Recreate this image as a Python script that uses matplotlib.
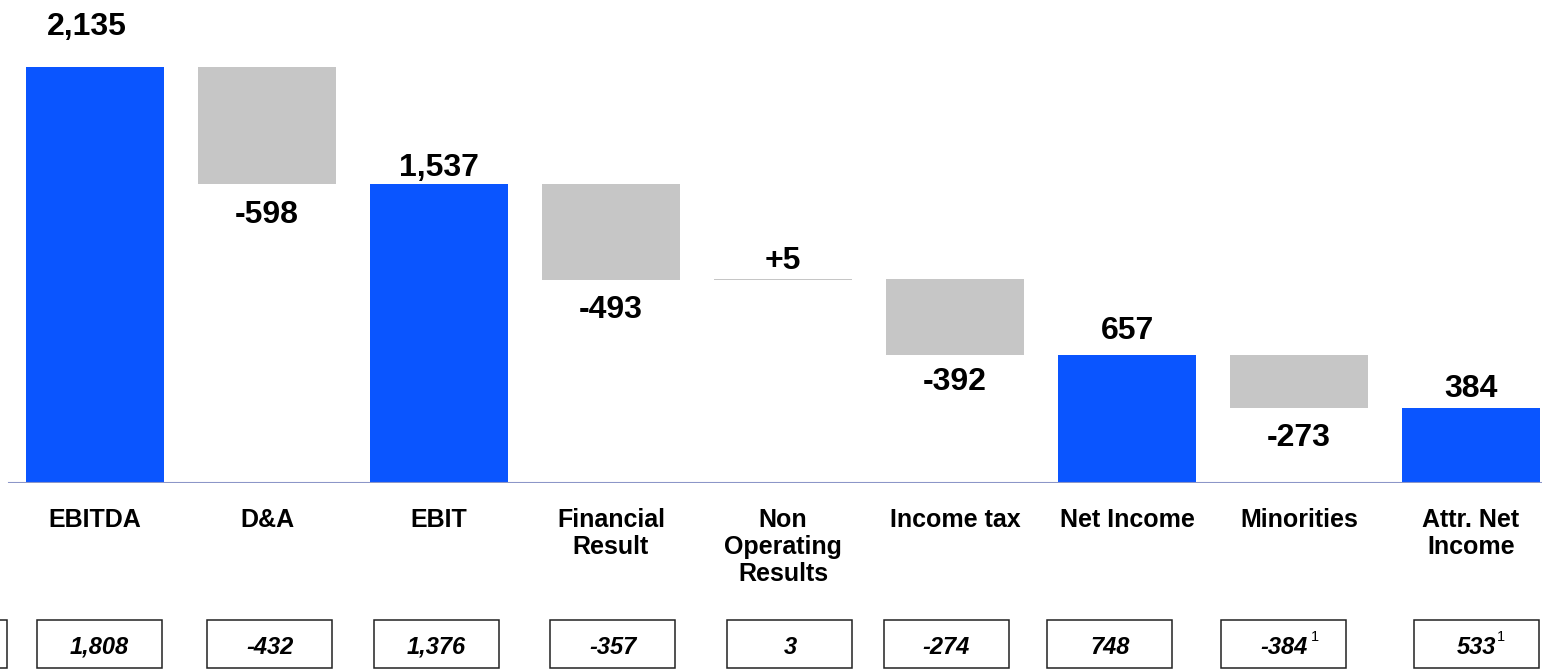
import matplotlib
matplotlib.use("Agg")
import matplotlib.pyplot as plt
from matplotlib.patches import Rectangle

plt.rcParams['font.family'] = ['Liberation Sans', 'DejaVu Sans']

# ---- data ----
categories = ["EBITDA", "D&A", "EBIT", "Financial\nResult", "Non\nOperating\nResults",
              "Income tax", "Net Income", "Minorities", "Attr. Net\nIncome"]
values = [2135, -598, 1537, -493, 5, -392, 657, -273, 384]
kinds = ["total", "delta", "total", "delta", "delta", "delta", "total", "delta", "total"]
value_labels = ["2,135", "-598", "1,537", "-493", "+5", "-392", "657", "-273", "384"]
prior_labels = ["1,808", "-432", "1,376", "-357", "3", "-274", "748", "-384", "533"]
prior_notes = ["", "", "", "", "", "", "", "1", "1"]

# ---- layout / style ----
BLUE = "#0A55FF"
GRAY = "#C6C6C6"
AXIS = "#8C96C8"
px_per_unit = 0.1948
W, H = 1542, 669
base_px = 483
label_off = [40, -31, 16, -30, 18, -27, 24, -30, 19]   # px from bar end
label_dx = [-8, 0, 0, 0, 0, 0, 0, 0, 0]
box_shift = [0.026, 0.017, -0.015, 0.01, 0.04, -0.05, -0.10, -0.09, 0.03]
box_w = 0.727

fig = plt.figure(figsize=(W / 100, H / 100), dpi=100)
xlim = ((0 - 95) / 172, (W - 95) / 172)
ax = fig.add_axes([0, (H - base_px) / H, 1, base_px / H])
ax.set_xlim(*xlim)
ax.set_ylim(0, base_px / px_per_unit)
ax.axis("off")

running = 0
for i, (v, k) in enumerate(zip(values, kinds)):
    if k == "total":
        bottom, height = 0, v
        running = v
        color = BLUE
    else:
        if v < 0:
            bottom, height = running + v, -v
        else:
            bottom, height = running, v
        running += v
        color = GRAY
    ax.bar(i, height, bottom=bottom, width=0.808, color=color, linewidth=0)
    off = label_off[i]
    y = bottom + height if off > 0 else bottom
    ax.annotate(value_labels[i], (i, y), xytext=(label_dx[i] * 0.72, off * 0.72),
                textcoords="offset points", ha="center", va="center",
                fontsize=23, fontweight="bold", color="black", annotation_clip=False)
    ax.annotate(categories[i], (i, 0), xytext=(0, -25 * 0.72), textcoords="offset points",
                ha="center", va="top", fontsize=18, fontweight="bold", color="black",
                linespacing=1.16, annotation_clip=False)

ax.axhline(0, xmin=9 / W, xmax=1, color=AXIS, linewidth=1.5)

# ---- prior-year boxes ----
ax2 = fig.add_axes([0, 0, 1, 51 / H])
ax2.set_xlim(*xlim)
ax2.set_ylim(0, 51)
ax2.axis("off")
box_centers = [-0.875] + [i + s for i, s in enumerate(box_shift)]
for c in box_centers:
    ax2.add_patch(Rectangle((c - box_w / 2, 1), box_w, 48, fill=False,
                            edgecolor="#222222", linewidth=1.1, clip_on=False))
for i, (t, n) in enumerate(zip(prior_labels, prior_notes)):
    c = box_centers[i + 1]
    ax2.text(c, 22, t, ha="center", va="center", fontsize=17, fontweight="bold",
             fontstyle="italic", color="black")
    if n:
        ax2.annotate(n, (c, 22), xytext=(len(t) * 5.0 + 2.5, 7.5), textcoords="offset points",
                     ha="center", va="center", fontsize=10.5, color="black")

fig.savefig("out.png", dpi=100)
